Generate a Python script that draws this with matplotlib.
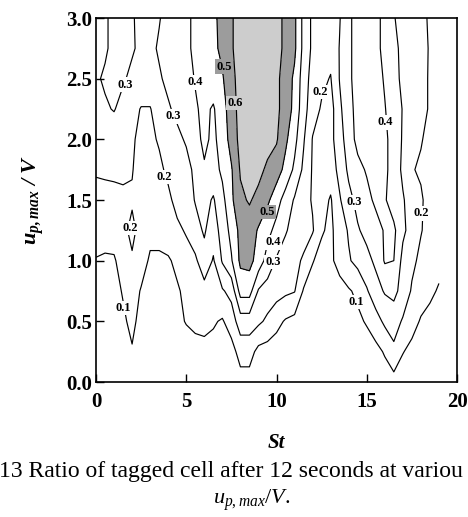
import numpy as np
import matplotlib
matplotlib.use('Agg')
import matplotlib.pyplot as plt

plt.rcParams['font.family'] = ['Liberation Serif', 'DejaVu Serif']
plt.rcParams['mathtext.fontset'] = 'custom'
plt.rcParams['mathtext.rm'] = 'Liberation Serif'
plt.rcParams['mathtext.it'] = 'Liberation Serif:italic'
plt.rcParams['mathtext.bf'] = 'Liberation Serif:bold:italic'

# grid of the measurement: Stokes number (columns) and u_p,max/V (rows)
st = np.arange(0, 19.01, 0.5)
u = [0.0, 0.25, 0.5, 0.75, 1.0, 1.25, 1.5, 1.75, 2.0, 2.25, 2.5, 2.75, 3.0]

# ratio of tagged cells, one row per u_p,max/V value
row_000 = [0.02, 0.02, 0.02, 0.03, 0.04, 0.03, 0.02, 0.02, 0.02, 0.03, 0.03, 0.04, 0.04, 0.04, 0.03, 0.04, 0.06, 0.06, 0.04, 0.03,
           0.03, 0.02, 0.02, 0.02, 0.01, 0.01, 0.01, 0.02, 0.02, 0.02, 0.03, 0.03, 0.05, 0.06, 0.04, 0.03, 0.02, 0.02, 0.02]
row_025 = [0.03, 0.03, 0.04, 0.05, 0.095, 0.05, 0.03, 0.03, 0.04, 0.05, 0.06, 0.07, 0.08, 0.07, 0.06, 0.06, 0.14, 0.14, 0.07, 0.06,
           0.05, 0.04, 0.03, 0.03, 0.02, 0.02, 0.03, 0.03, 0.03, 0.04, 0.05, 0.07, 0.11, 0.18, 0.105, 0.07, 0.05, 0.04, 0.04]
row_050 = [0.04, 0.05, 0.06, 0.09, 0.115, 0.08, 0.05, 0.05, 0.06, 0.08, 0.105, 0.12, 0.12, 0.11, 0.09, 0.15, 0.25, 0.25, 0.22, 0.18,
           0.13, 0.09, 0.07, 0.05, 0.04, 0.04, 0.04, 0.05, 0.06, 0.08, 0.11, 0.16, 0.22, 0.24, 0.19, 0.14, 0.09, 0.07, 0.06]
row_075 = [0.06, 0.07, 0.08, 0.105, 0.13, 0.095, 0.07, 0.06, 0.07, 0.09, 0.12, 0.14, 0.16, 0.15, 0.19, 0.23, 0.44, 0.44, 0.29, 0.26,
           0.24, 0.22, 0.205, 0.09, 0.06, 0.05, 0.06, 0.08, 0.09, 0.12, 0.19, 0.26, 0.31, 0.33, 0.26, 0.19, 0.15, 0.12, 0.09]
row_100 = [0.095, 0.09, 0.09, 0.14, 0.19, 0.13, 0.09, 0.085, 0.09, 0.12, 0.16, 0.18, 0.27, 0.19, 0.31, 0.39, 0.52, 0.53, 0.46, 0.36,
           0.29, 0.25, 0.22, 0.19, 0.105, 0.07, 0.09, 0.12, 0.19, 0.23, 0.27, 0.32, 0.41, 0.40, 0.27, 0.22, 0.18, 0.15, 0.13]
row_125 = [0.14, 0.13, 0.14, 0.18, 0.22, 0.17, 0.12, 0.13, 0.15, 0.18, 0.21, 0.27, 0.31, 0.25, 0.34, 0.43, 0.53, 0.55, 0.49, 0.43,
           0.37, 0.31, 0.26, 0.23, 0.21, 0.11, 0.08, 0.15, 0.21, 0.29, 0.33, 0.36, 0.41, 0.42, 0.32, 0.26, 0.205, 0.17, 0.15]
row_150 = [0.17, 0.16, 0.17, 0.18, 0.19, 0.16, 0.14, 0.15, 0.18, 0.23, 0.26, 0.305, 0.33, 0.29, 0.37, 0.48, 0.58, 0.61, 0.57, 0.52,
           0.44, 0.36, 0.29, 0.24, 0.19, 0.14, 0.09, 0.19, 0.27, 0.33, 0.37, 0.42, 0.41, 0.35, 0.31, 0.25, 0.21, 0.17, 0.15]
row_175 = [0.21, 0.22, 0.22, 0.22, 0.205, 0.16, 0.15, 0.18, 0.22, 0.25, 0.27, 0.32, 0.39, 0.36, 0.42, 0.49, 0.61, 0.64, 0.63, 0.58,
           0.55, 0.47, 0.38, 0.28, 0.19, 0.13, 0.15, 0.23, 0.32, 0.37, 0.41, 0.44, 0.42, 0.36, 0.28, 0.205, 0.19, 0.17, 0.15]
row_200 = [0.24, 0.25, 0.25, 0.23, 0.21, 0.18, 0.18, 0.21, 0.25, 0.28, 0.31, 0.37, 0.42, 0.38, 0.44, 0.54, 0.63, 0.65, 0.65, 0.64,
           0.61, 0.52, 0.43, 0.31, 0.195, 0.15, 0.17, 0.26, 0.35, 0.43, 0.45, 0.45, 0.42, 0.36, 0.29, 0.25, 0.205, 0.18, 0.16]
row_225 = [0.27, 0.29, 0.305, 0.27, 0.23, 0.195, 0.195, 0.25, 0.29, 0.32, 0.36, 0.39, 0.42, 0.39, 0.46, 0.55, 0.64, 0.64, 0.65, 0.65,
           0.62, 0.56, 0.47, 0.34, 0.24, 0.19, 0.16, 0.28, 0.37, 0.43, 0.45, 0.44, 0.405, 0.35, 0.295, 0.26, 0.23, 0.19, 0.17]
row_250 = [0.29, 0.31, 0.32, 0.31, 0.28, 0.26, 0.26, 0.29, 0.32, 0.35, 0.37, 0.405, 0.44, 0.45, 0.49, 0.57, 0.64, 0.65, 0.66, 0.65,
           0.62, 0.56, 0.48, 0.35, 0.26, 0.22, 0.195, 0.305, 0.38, 0.44, 0.46, 0.44, 0.39, 0.33, 0.28, 0.25, 0.23, 0.19, 0.17]
row_275 = [0.27, 0.29, 0.32, 0.33, 0.31, 0.28, 0.28, 0.31, 0.33, 0.36, 0.38, 0.42, 0.45, 0.48, 0.52, 0.59, 0.64, 0.64, 0.66, 0.65,
           0.63, 0.58, 0.52, 0.37, 0.28, 0.24, 0.23, 0.305, 0.38, 0.44, 0.46, 0.43, 0.37, 0.32, 0.28, 0.25, 0.22, 0.195, 0.17]
row_300 = [0.27, 0.29, 0.32, 0.33, 0.31, 0.27, 0.28, 0.295, 0.33, 0.36, 0.38, 0.42, 0.45, 0.48, 0.53, 0.59, 0.64, 0.65, 0.66, 0.65,
           0.63, 0.58, 0.52, 0.37, 0.28, 0.25, 0.25, 0.295, 0.38, 0.44, 0.46, 0.43, 0.37, 0.305, 0.27, 0.25, 0.22, 0.19, 0.17]

levels = [0.1, 0.2, 0.3, 0.4, 0.5, 0.6]
xtick_vals = [0, 5, 10, 15, 20]
ytick_vals = [0.0, 0.5, 1.0, 1.5, 2.0, 2.5, 3.0]

# contour labels as printed on the figure: (level, St, u)
line_labels = [
    (0.1, 1.5, 0.61), (0.1, 14.4, 0.66),
    (0.2, 1.9, 1.27), (0.2, 3.8, 1.69), (0.2, 12.4, 2.39), (0.2, 18.0, 1.39),
    (0.3, 1.6, 2.45), (0.3, 4.3, 2.19), (0.3, 9.8, 0.99), (0.3, 14.3, 1.48),
    (0.4, 5.5, 2.47), (0.4, 9.8, 1.15), (0.4, 16.0, 2.14),
    (0.5, 7.1, 2.6), (0.5, 9.5, 1.4),
    (0.6, 7.7, 2.3),
]

ratio = np.array([row_000, row_025, row_050, row_075, row_100, row_125, row_150,
                  row_175, row_200, row_225, row_250, row_275, row_300])
X, Y = np.meshgrid(st, u)

fig = plt.figure(figsize=(4.68, 5.17), dpi=100)
ax = fig.add_axes([96 / 468, 1 - 382 / 517, 361 / 468, 364 / 517])

ax.contourf(X, Y, ratio, levels=[0.5, 0.6, 1.0], colors=['#9c9c9c', '#cdcdcd'])
cs = ax.contour(X, Y, ratio, levels=levels, colors='black', linewidths=0.85)

for lev, x, y in line_labels:
    shade = 'white'
    if lev == 0.5:
        shade = '#9c9c9c'
    elif lev == 0.6:
        shade = '#cdcdcd'
    ax.text(x, y, '%.1f' % lev, fontsize=9, fontweight='bold', ha='center', va='center',
            bbox=dict(boxstyle='square,pad=0.1', fc=shade, ec='none'), zorder=5)

ax.set_xlim(0, 20)
ax.set_ylim(0, 3)
ax.set_xticks(xtick_vals)
ax.set_xticklabels([str(v) for v in xtick_vals], fontweight='bold', fontsize=15)
ax.set_yticks(ytick_vals)
ax.set_yticklabels(['%.1f' % v for v in ytick_vals], fontweight='bold', fontsize=15)
ax.tick_params(axis='both', direction='in', length=6, width=1, top=False, right=False)
ax.tick_params(axis='x', pad=7)
ax.tick_params(axis='y', pad=3)
for sp in ax.spines.values():
    sp.set_linewidth(1.2)

ax.set_ylabel(r'$\mathbf{u_{p,max}\ /\ V}$', fontsize=16, labelpad=14)
fig.text(276 / 468, 1 - 443 / 517, 'St', fontsize=15, fontweight='bold', fontstyle='italic',
         ha='center', va='center')
fig.text(-1 / 468, 1 - 472 / 517, '13 Ratio of tagged cell after 12 seconds at variou',
         fontsize=17, ha='left', va='center')
fig.text(252 / 468, 1 - 500 / 517, r'$u_{p,max}$/$V$.', fontsize=16, ha='center', va='center')

fig.savefig('out.png', dpi=100, facecolor='white')
